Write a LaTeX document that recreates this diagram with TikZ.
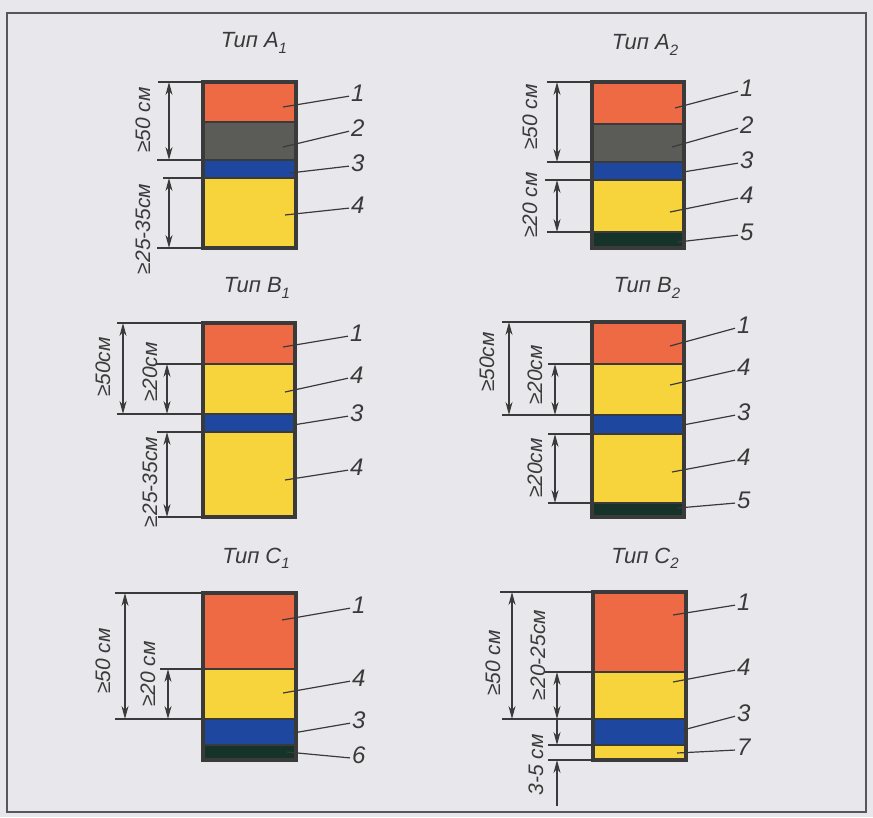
\documentclass[tikz,border=0pt]{standalone}
\usepackage{fontspec}
\setmainfont{Liberation Sans}
\usetikzlibrary{arrows.meta}
\definecolor{bgc}{HTML}{E8E7EC}
\definecolor{lc}{HTML}{3A3A3A}
\definecolor{orng}{HTML}{EE6A45}
\definecolor{grayl}{HTML}{5B5B58}
\definecolor{bluel}{HTML}{1E48A0}
\definecolor{yell}{HTML}{F7D43C}
\definecolor{grnl}{HTML}{16332A}
\newcommand\subn[1]{\raisebox{-0.45ex}{\fontsize{15}{15}\selectfont #1}}
\tikzset{
  layer/.style={draw=lc, line width=2pt, anchor=north west, inner sep=0pt, outer sep=0pt},
  boxo/.style={draw=lc, line width=3.2pt, anchor=north west, inner sep=0pt, outer sep=0pt},
  extl/.style={draw=lc, line width=1.2pt},
  dimarr/.style={draw=lc, line width=1.2pt, {Stealth[length=13pt,width=7pt]}-{Stealth[length=13pt,width=7pt]}},
  dimone/.style={draw=lc, line width=1.2pt, -{Stealth[length=13pt,width=7pt]}},
  lead/.style={draw=lc, line width=1.2pt, shorten >=1pt},
  dlab/.style={rotate=90, text=lc, font=\fontsize{21}{22}\selectfont\itshape, inner sep=0pt},
  numl/.style={text=lc, font=\fontsize{24}{26}\selectfont\itshape, inner sep=1pt, anchor=west},
  ttl/.style={text=lc, font=\fontsize{22}{24}\selectfont\itshape, inner sep=0pt}
}
\newcommand\lay[6]{\node[layer, fill=#5, minimum width=#6pt, minimum height={#4pt-#3pt}] (#1) at (#2,#3) {};}
\newcommand\boxout[5]{\node[boxo, minimum width=#5pt, minimum height={#4pt-#3pt}] (#1) at (#2,#3) {};}
\newcommand\ext[3]{\draw[extl] (#1,#2) -- (#3,#2);}
\newcommand\num[6]{\coordinate (#1s) at (#5,#6); \node[numl] (#1) at (#2,#3) {#4}; \draw[lead] (#1s) -- ([yshift=-3pt]#1.west);}
\begin{document}
\begin{tikzpicture}[x=1pt,y=-1pt]
\fill[bgc] (0,0) rectangle (873,817);
\useasboundingbox (0,0) rectangle (873,817);
\draw[lc!85, line width=1.6pt] (7,13) rectangle (866,812);

% ---------- A1 ----------
\node[ttl] (ta1) at (254,43) {Тип A\subn{1}};
\lay{a1l1}{203}{82}{122}{orng}{93}
\lay{a1l2}{203}{122}{160}{grayl}{93}
\lay{a1l3}{203}{160}{178}{bluel}{93}
\lay{a1l4}{203}{178}{248}{yell}{93}
\boxout{a1}{203}{82}{248}{93}
\ext{203}{82}{158}\ext{203}{160}{157}\ext{203}{178}{163}\ext{203}{248}{157}
\draw[dimarr] (169,82) -- (169,160);
\draw[dimarr] (169,178) -- (169,248);
\node[dlab] (a1d1) at (143,120) {≥50 см};
\node[dlab] (a1d2) at (143,229) {≥25-35см};
\num{a1n1}{350}{93}{1}{283}{107}
\num{a1n2}{350}{128}{2}{283}{147}
\num{a1n3}{350}{163}{3}{290}{173}
\num{a1n4}{350}{205}{4}{285}{215}

% ---------- A2 ----------
\node[ttl] (ta2) at (645,45) {Тип A\subn{2}};
\lay{a2l1}{592}{82}{124}{orng}{92}
\lay{a2l2}{592}{124}{162}{grayl}{92}
\lay{a2l3}{592}{162}{180}{bluel}{92}
\lay{a2l4}{592}{180}{232}{yell}{92}
\lay{a2l5}{592}{232}{248}{grnl}{92}
\boxout{a2}{592}{82}{248}{92}
\ext{592}{82}{547}\ext{592}{162}{547}\ext{592}{180}{545}\ext{592}{232}{547}
\draw[dimarr] (557,82) -- (557,162);
\draw[dimarr] (557,180) -- (557,232);
\node[dlab] (a2d1) at (530,117) {≥50 см};
\node[dlab] (a2d2) at (530,205) {≥20 см};
\num{a2n1}{739}{88}{1}{675}{108}
\num{a2n2}{739}{125}{2}{672}{147}
\num{a2n3}{739}{160}{3}{683}{172}
\num{a2n4}{739}{195}{4}{670}{212}
\num{a2n5}{739}{232}{5}{678}{242}

% ---------- B1 ----------
\node[ttl] (tb1) at (257,288) {Тип B\subn{1}};
\lay{b1l1}{203}{323}{364}{orng}{92}
\lay{b1l2}{203}{364}{414}{yell}{92}
\lay{b1l3}{203}{414}{432}{bluel}{92}
\lay{b1l4}{203}{432}{517}{yell}{92}
\boxout{b1}{203}{323}{517}{92}
\ext{203}{323}{117}\ext{203}{364}{156}\ext{203}{414}{117}\ext{203}{432}{157}\ext{203}{517}{158}
\draw[dimarr] (123,323) -- (123,414);
\draw[dimarr] (167,364) -- (167,414);
\draw[dimarr] (167,432) -- (167,517);
\node[dlab] (b1d1) at (103,367) {≥50см};
\node[dlab] (b1d2) at (150,372) {≥20см};
\node[dlab] (b1d3) at (150,482) {≥25-35см};
\num{b1n1}{349}{333}{1}{283}{347}
\num{b1n2}{349}{375}{4}{285}{392}
\num{b1n3}{349}{413}{3}{293}{425}
\num{b1n4}{349}{467}{4}{285}{480}

% ---------- B2 ----------
\node[ttl] (tb2) at (647,288) {Тип B\subn{2}};
\lay{b2l1}{592}{322}{364}{orng}{92}
\lay{b2l2}{592}{364}{415}{yell}{92}
\lay{b2l3}{592}{415}{434}{bluel}{92}
\lay{b2l4}{592}{434}{503}{yell}{92}
\lay{b2l5}{592}{503}{517}{grnl}{92}
\boxout{b2}{592}{322}{517}{92}
\ext{592}{322}{502}\ext{592}{364}{548}\ext{592}{415}{502}\ext{592}{434}{548}\ext{592}{503}{548}
\draw[dimarr] (509,322) -- (509,415);
\draw[dimarr] (555,364) -- (555,415);
\draw[dimarr] (555,434) -- (555,503);
\node[dlab] (b2d1) at (487,362) {≥50см};
\node[dlab] (b2d2) at (535,375) {≥20см};
\node[dlab] (b2d3) at (535,468) {≥20см};
\num{b2n1}{736}{325}{1}{670}{346}
\num{b2n2}{736}{367}{4}{670}{385}
\num{b2n3}{736}{412}{3}{683}{425}
\num{b2n4}{736}{457}{4}{672}{472}
\num{b2n5}{736}{500}{5}{678}{508}

% ---------- C1 ----------
\node[ttl] (tc1) at (256,558) {Тип C\subn{1}};
\lay{c1l1}{203}{593}{669}{orng}{93}
\lay{c1l2}{203}{669}{719}{yell}{93}
\lay{c1l3}{203}{719}{745}{bluel}{93}
\lay{c1l4}{203}{745}{760}{grnl}{93}
\boxout{c1}{203}{593}{760}{93}
\ext{203}{593}{115}\ext{203}{669}{160}\ext{203}{719}{115}
\draw[dimarr] (125,593) -- (125,719);
\draw[dimarr] (168,669) -- (168,719);
\node[dlab] (c1d1) at (103,661) {≥50 см};
\node[dlab] (c1d2) at (148,674) {≥20 см};
\num{c1n1}{351}{605}{1}{282}{620}
\num{c1n2}{351}{678}{4}{283}{693}
\num{c1n3}{351}{720}{3}{293}{733}
\num{c1n4}{351}{755}{6}{287}{752}

% ---------- C2 ----------
\node[ttl] (tc2) at (645,558) {Тип C\subn{2}};
\lay{c2l1}{593}{592}{672}{orng}{93}
\lay{c2l2}{593}{672}{719}{yell}{93}
\lay{c2l3}{593}{719}{745}{bluel}{93}
\lay{c2l4}{593}{745}{760}{yell}{93}
\boxout{c2}{593}{592}{760}{93}
\ext{593}{592}{500}\ext{593}{672}{545}\ext{593}{719}{502}\ext{593}{745}{548}\ext{593}{760}{548}
\draw[dimarr] (512,592) -- (512,719);
\draw[dimarr] (557,672) -- (557,719);
\draw[dimone] (557,719) -- (557,745);
\draw[dimone] (557,806) -- (557,760);
\node[dlab] (c2d1) at (493,663) {≥50 см};
\node[dlab] (c2d2) at (538,655) {≥20-25см};
\node[dlab] (c2d3) at (536,765) {3-5 см};
\num{c2n1}{736}{602}{1}{673}{615}
\num{c2n2}{736}{667}{4}{673}{682}
\num{c2n3}{736}{713}{3}{683}{730}
\num{c2n4}{736}{747}{7}{677}{753}
\end{tikzpicture}
\end{document}
